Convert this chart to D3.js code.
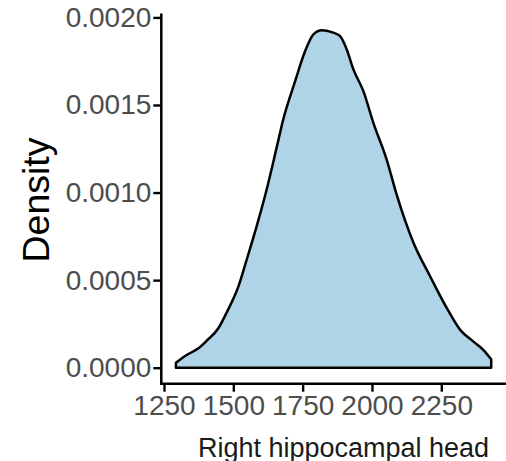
<!DOCTYPE html>
<html>
<head>
<meta charset="utf-8">
<script src="https://cdn.jsdelivr.net/npm/d3@7"></script>
<style>
  html, body { margin: 0; padding: 0; background: #fff; }
  svg { display: block; font-family: "Liberation Sans", Arial, sans-serif; }
</style>
</head>
<body>
<svg id="chart" width="506" height="461"></svg>
<script>
// Density estimate of "Right hippocampal head"
const xValues = [1293, 1332, 1374, 1404, 1446, 1476, 1518, 1548, 1584, 1620, 1656, 1680, 1723, 1759, 1789, 1819, 1855, 1885, 1909, 1933, 1969, 2005, 2053, 2089, 2150, 2210, 2270, 2318, 2366, 2402, 2430];
const densityValues = [0.0000286, 0.0000726, 0.000111, 0.000154, 0.000225, 0.000315, 0.000463, 0.000616, 0.000807, 0.001016, 0.001255, 0.001417, 0.001636, 0.001808, 0.001903, 0.001926, 0.001916, 0.001893, 0.001817, 0.001703, 0.001579, 0.001398, 0.001188, 0.000988, 0.000712, 0.000521, 0.000340, 0.000216, 0.000149, 0.000101, 0.000048];
const xTicks = [1250, 1500, 1750, 2000, 2250];
const yTicks = [0, 0.0005, 0.0010, 0.0015, 0.0020];
const xTitle = "Right hippocampal head";
const yTitle = "Density";

const svg = d3.select("#chart");

const panel = { left: 161.3, right: 506, top: 13.5, bottom: 383.7 };

const x = d3.scaleLinear().domain([1250, 2250]).range([164, 441.3]);
const y = d3.scaleLinear().domain([0, 0.0020]).range([367.7, 17.4]);

const pts = xValues.map((v, i) => [v, densityValues[i]]);

// Filled density area
const area = d3.area()
  .x(d => x(d[0]))
  .y0(y(0))
  .y1(d => y(d[1]))
  .curve(d3.curveMonotoneX);

svg.append("path")
  .datum(pts)
  .attr("d", area)
  .attr("fill", "#b0d4e7")
  .attr("stroke", "none");

// Outline (full polygon, as ggplot's older geom_density)
const line = d3.line()
  .x(d => x(d[0]))
  .y(d => y(d[1]))
  .curve(d3.curveMonotoneX);
const first = pts[0], last = pts[pts.length - 1];
const outlinePath = line(pts) +
  "L" + x(last[0]) + "," + y(0) +
  "L" + x(first[0]) + "," + y(0) + "Z";
svg.append("path")
  .attr("d", outlinePath)
  .attr("fill", "none")
  .attr("stroke", "#000")
  .attr("stroke-width", 2.5)
  .attr("stroke-linejoin", "round");

// Axes
const xAxis = d3.axisBottom(x).tickValues(xTicks).tickSize(8).tickPadding(3).tickFormat(d3.format("d"));
const yAxis = d3.axisLeft(y).tickValues(yTicks).tickSize(8).tickPadding(2).tickFormat(d3.format(".4f"));

const gx = svg.append("g").attr("transform", `translate(0,${panel.bottom})`).call(xAxis);
const gy = svg.append("g").attr("transform", `translate(${panel.left},0)`).call(yAxis);

[gx, gy].forEach(g => {
  g.select(".domain").remove();
  g.selectAll(".tick line").attr("stroke", "#000").attr("stroke-width", 2.4);
  g.selectAll(".tick text")
    .attr("fill", "#4d4d4d")
    .style("font-size", "28px")
    .style("font-family", "'Liberation Sans', Arial, sans-serif");
});

// Axis lines
svg.append("line")
  .attr("x1", panel.left).attr("x2", panel.left)
  .attr("y1", panel.top).attr("y2", panel.bottom + 1.2)
  .attr("stroke", "#000").attr("stroke-width", 2.5);
svg.append("line")
  .attr("x1", panel.left - 1.2).attr("x2", panel.right)
  .attr("y1", panel.bottom).attr("y2", panel.bottom)
  .attr("stroke", "#000").attr("stroke-width", 2.5);

// Titles
svg.append("text")
  .attr("x", 343.5).attr("y", 456.5)
  .attr("text-anchor", "middle")
  .attr("fill", "#1a1a1a")
  .style("font-size", "27px")
  .text(xTitle);

svg.append("text")
  .attr("transform", "translate(48.5,200) rotate(-90)")
  .attr("text-anchor", "middle")
  .attr("fill", "#000")
  .style("font-size", "37.5px")
  .text(yTitle);
</script>
</body>
</html>
